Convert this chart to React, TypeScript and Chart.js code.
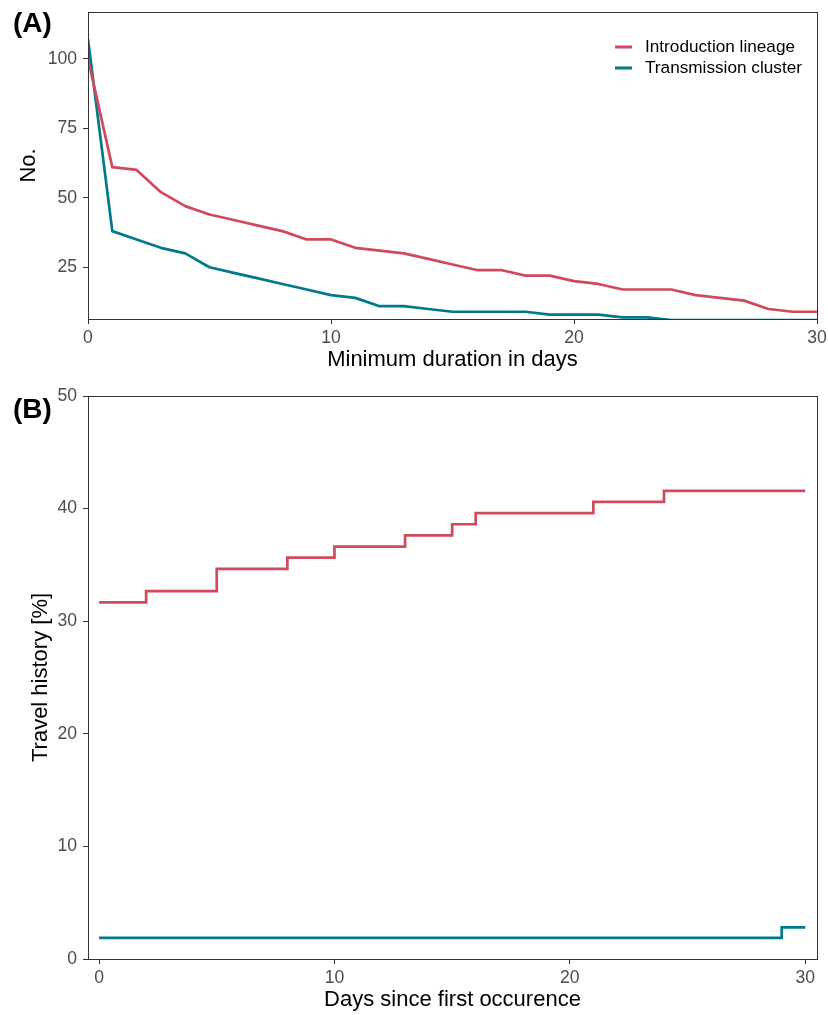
import React, { useEffect, useRef } from "react";
import { Chart, registerables } from "chart.js";

Chart.register(...registerables);

// ---------- data ----------
const DAYS_A = [0, 1, 2, 3, 4, 5, 6, 7, 8, 9, 10, 11, 12, 13, 14, 15, 16, 17, 18, 19, 20, 21, 22, 23, 24, 25, 26, 27, 28, 29, 30];
const INTRO_A = [100, 61, 60, 52, 47, 44, 42, 40, 38, 35, 35, 32, 31, 30, 28, 26, 24, 24, 22, 22, 20, 19, 17, 17, 17, 15, 14, 13, 10, 9, 9];
const CLUSTER_A = [107, 38, 35, 32, 30, 25, 23, 21, 19, 17, 15, 14, 11, 11, 10, 9, 9, 9, 9, 8, 8, 8, 7, 7, 6, 6, 6, 6, 6, 6, 6];

const DAYS_B = [0, 1, 2, 3, 4, 5, 6, 7, 8, 9, 10, 11, 12, 13, 14, 15, 16, 17, 18, 19, 20, 21, 22, 23, 24, 25, 26, 27, 28, 29, 30];
const INTRO_B = [31.68, 31.68, 32.67, 32.67, 32.67, 34.65, 34.65, 34.65, 35.64, 35.64, 36.63, 36.63, 36.63, 37.62, 37.62, 38.61, 39.6, 39.6, 39.6, 39.6, 39.6, 40.59, 40.59, 40.59, 41.58, 41.58, 41.58, 41.58, 41.58, 41.58, 41.58];
const CLUSTER_B = [1.87, 1.87, 1.87, 1.87, 1.87, 1.87, 1.87, 1.87, 1.87, 1.87, 1.87, 1.87, 1.87, 1.87, 1.87, 1.87, 1.87, 1.87, 1.87, 1.87, 1.87, 1.87, 1.87, 1.87, 1.87, 1.87, 1.87, 1.87, 1.87, 2.8, 2.8];

const SERIES = ["Introduction lineage", "Transmission cluster"];
const COLORS = ["#d1495b", "#00798c"];

const X_TICKS_A = [0, 10, 20, 30];
const Y_TICKS_A = [25, 50, 75, 100];
const X_TICKS_B = [0, 10, 20, 30];
const Y_TICKS_B = [0, 10, 20, 30, 40, 50];

const X_TITLE_A = "Minimum duration in days";
const Y_TITLE_A = "No.";
const X_TITLE_B = "Days since first occurence";
const Y_TITLE_B = "Travel history [%]";
const PANEL_A = "(A)";
const PANEL_B = "(B)";

// ---------- layout ----------
const FONT = "'Liberation Sans', Arial, Helvetica, sans-serif";
const W = 828;
const H_A = 380;
const H_B = 635;

function framePlugin(label: string, labelY: number, showLegend: boolean) {
  return {
    id: "frame" + label,
    afterDatasetsDraw(chart: any) {
      const { ctx, chartArea: a } = chart;
      ctx.save();
      ctx.strokeStyle = "#333333";
      ctx.lineWidth = 1;
      const l = Math.round(a.left), t = Math.round(a.top), r = Math.round(a.right), b = Math.round(a.bottom);
      ctx.strokeRect(l + 0.5, t + 0.5, r - l, b - t);
      ctx.restore();
    },
    afterDraw(chart: any) {
      const { ctx } = chart;
      ctx.save();
      ctx.fillStyle = "#000";
      ctx.font = `bold 28px ${FONT}`;
      ctx.textBaseline = "alphabetic";
      ctx.textAlign = "left";
      ctx.fillText(label, 13, labelY);
      if (showLegend) {
        chart.data.datasets.forEach((ds: any, i: number) => {
          const y = 47 + i * 21;
          ctx.strokeStyle = ds.borderColor;
          ctx.lineWidth = 3;
          ctx.beginPath();
          ctx.moveTo(615, y);
          ctx.lineTo(632, y);
          ctx.stroke();
          ctx.fillStyle = "#000";
          ctx.font = `17.2px ${FONT}`;
          ctx.textBaseline = "middle";
          ctx.fillText(ds.label, 645, y);
        });
      }
      ctx.restore();
    },
  };
}

function buildOptions(o: any) {
  const tickFont = { family: FONT, size: 17.6 };
  return {
    animation: false,
    responsive: false,
    maintainAspectRatio: false,
    layout: { padding: { top: o.topPad, right: 11, left: 0, bottom: 0 } },
    plugins: { legend: { display: false }, tooltip: { enabled: false } },
    elements: { point: { radius: 0 } },
    scales: {
      x: {
        type: "linear",
        min: o.xMin,
        max: o.xMax,
        afterBuildTicks: (s: any) => {
          s.ticks = o.xTicks.map((v: number) => ({ value: v }));
        },
        afterFit: (s: any) => {
          s.height = o.xAxisHeight;
          s.paddingLeft = 0;
          s.paddingRight = 0;
        },
        grid: { display: true, drawOnChartArea: false, drawTicks: true, tickLength: 5, color: "#333333", lineWidth: 1 },
        border: { display: false },
        ticks: { font: tickFont, color: "#4d4d4d", padding: o.xTickPad, maxRotation: 0, autoSkip: false, callback: (v: any) => String(v) },
        title: { display: true, text: o.xTitle, font: { family: FONT, size: 22 }, color: "#000", padding: { top: 0, bottom: o.xTitlePad } },
      },
      y: {
        type: "linear",
        min: o.yMin,
        max: o.yMax,
        afterBuildTicks: (s: any) => {
          s.ticks = o.yTicks.map((v: number) => ({ value: v }));
        },
        afterFit: (s: any) => {
          s.width = 88;
          s.paddingTop = 0;
          s.paddingBottom = 0;
        },
        grid: { display: true, drawOnChartArea: false, drawTicks: true, tickLength: 5, color: "#333333", lineWidth: 1 },
        border: { display: false },
        ticks: { font: tickFont, color: "#4d4d4d", padding: 6, autoSkip: false, callback: (v: any) => String(v) },
        title: { display: true, text: o.yTitle, font: { family: FONT, size: 22 }, color: "#000", padding: { top: o.yTitlePad, bottom: 0 } },
      },
    },
  };
}

function makeDatasets(days: number[], a: number[], b: number[], stepped: boolean) {
  return [a, b].map((vals, i) => ({
    label: SERIES[i],
    data: days.map((d, j) => ({ x: d, y: vals[j] })),
    borderColor: COLORS[i],
    backgroundColor: COLORS[i],
    borderWidth: 2.7,
    fill: false,
    tension: 0,
    stepped: stepped ? "before" : false,
    pointRadius: 0,
    borderJoinStyle: stepped ? "miter" : "round",
  }));
}

export default function App() {
  const refA = useRef<HTMLCanvasElement>(null);
  const refB = useRef<HTMLCanvasElement>(null);

  useEffect(() => {
    const chartA = new Chart(refA.current as HTMLCanvasElement, {
      type: "line",
      data: { datasets: makeDatasets(DAYS_A, INTRO_A, CLUSTER_A, false) as any },
      options: buildOptions({
        topPad: 12,
        xMin: 0, xMax: 30, yMin: 6.4, yMax: 116.8,
        xTicks: X_TICKS_A, yTicks: Y_TICKS_A,
        xAxisHeight: H_A - 319, xTickPad: 4, xTitle: X_TITLE_A, xTitlePad: 7,
        yTitle: Y_TITLE_A, yTitlePad: 16,
      }) as any,
      plugins: [framePlugin(PANEL_A, 32, true)],
    });
    const chartB = new Chart(refB.current as HTMLCanvasElement, {
      type: "line",
      data: { datasets: makeDatasets(DAYS_B, INTRO_B, CLUSTER_B, true) as any },
      options: buildOptions({
        topPad: 16,
        xMin: -0.47, xMax: 30.5, yMin: 0, yMax: 50,
        xTicks: X_TICKS_B, yTicks: Y_TICKS_B,
        xAxisHeight: H_B - 579, xTickPad: 4, xTitle: X_TITLE_B, xTitlePad: 2,
        yTitle: Y_TITLE_B, yTitlePad: 28,
      }) as any,
      plugins: [framePlugin(PANEL_B, 38, false)],
    });
    return () => {
      chartA.destroy();
      chartB.destroy();
    };
  }, []);

  return (
    <div style={{ position: "absolute", left: 0, top: 0, width: W, height: H_A + H_B, background: "#fff" }}>
      <canvas ref={refA} width={W} height={H_A} style={{ position: "absolute", left: 0, top: 0, width: W, height: H_A }} />
      <canvas ref={refB} width={W} height={H_B} style={{ position: "absolute", left: 0, top: H_A, width: W, height: H_B }} />
    </div>
  );
}
